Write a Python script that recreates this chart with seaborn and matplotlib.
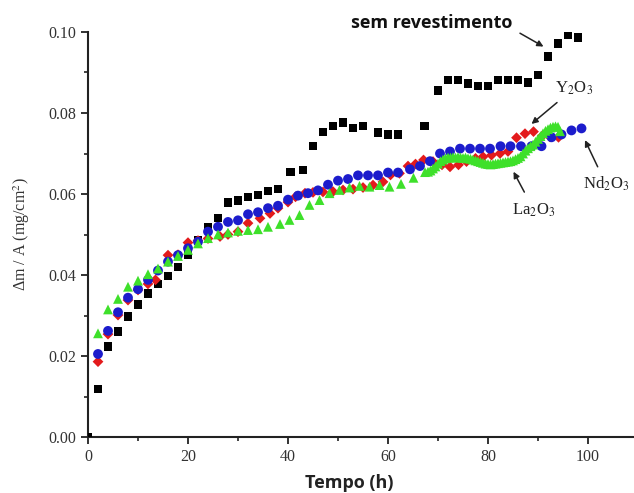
import numpy as np
import pandas as pd
import matplotlib
matplotlib.use("Agg")
import matplotlib.pyplot as plt
from matplotlib.ticker import MultipleLocator, FormatStrFormatter
import seaborn as sns

# ---- data ----
sem_x = [0, 2, 4, 6, 8, 10, 12, 14, 16, 18, 20, 22, 24, 26, 28, 30, 32, 34, 36, 38,
         40.5, 43, 45, 47, 49, 51, 53, 55, 58, 60, 62, 67.3, 70, 72, 74, 76, 78, 80,
         82, 84, 86, 88, 90, 92, 94, 96, 98]
sem_y = [0.0, 0.0119, 0.0223, 0.0261, 0.0298, 0.0327, 0.0355, 0.0378, 0.0398, 0.0420,
         0.0449, 0.0485, 0.0517, 0.0541, 0.0579, 0.0584, 0.0593, 0.0598, 0.0607, 0.0612,
         0.0654, 0.0659, 0.0719, 0.0753, 0.0768, 0.0776, 0.0763, 0.0768, 0.0752, 0.0747,
         0.0747, 0.0768, 0.0855, 0.0881, 0.0881, 0.0873, 0.0867, 0.0867, 0.0881, 0.0881,
         0.0881, 0.0875, 0.0894, 0.0939, 0.0972, 0.0994, 0.0986]

nd_x = [2, 4, 6, 8, 10, 12, 14, 16, 18, 20, 22, 24, 26, 28, 30, 32, 34, 36, 38, 40,
        42, 44, 46, 48, 50, 52, 54, 56, 58, 60, 62, 64.4, 66.4, 68.4, 70.4, 72.4, 74.4,
        76.4, 78.4, 80.4, 82.5, 84.5, 86.6, 88.7, 90.7, 92.7, 94.7, 96.7, 98.7]
nd_y = [0.0205, 0.0262, 0.0308, 0.0344, 0.0365, 0.0388, 0.0411, 0.0433, 0.0449, 0.0466,
        0.0482, 0.0507, 0.0519, 0.0531, 0.0535, 0.0550, 0.0555, 0.0565, 0.0571, 0.0586,
        0.0596, 0.0602, 0.0609, 0.0623, 0.0633, 0.0637, 0.0646, 0.0646, 0.0646, 0.0653,
        0.0653, 0.0661, 0.0669, 0.0681, 0.0700, 0.0705, 0.0712, 0.0712, 0.0712, 0.0712,
        0.0718, 0.0718, 0.0718, 0.0718, 0.0718, 0.0740, 0.0747, 0.0757, 0.0762]

y_x = [2, 4, 6, 8, 10, 12, 13.5, 16, 18, 20, 22, 24, 26.4, 28, 30, 32, 34.4, 36.4, 38,
       40, 41.5, 43.4, 45, 47, 49, 51, 53, 55, 57, 59, 60.5, 62.3, 64, 65.5, 67.1, 69,
       70.8, 72.4, 74.1, 75.7, 77.5, 79, 80.7, 82.4, 84, 85.7, 87.4, 89.1, 90.8, 92.4,
       94.1]
y_y = [0.0186, 0.0254, 0.0301, 0.0338, 0.0363, 0.0378, 0.0388, 0.0449, 0.0450, 0.0480,
       0.0485, 0.0490, 0.0495, 0.0500, 0.0507, 0.0528, 0.0540, 0.0552, 0.0565, 0.0580,
       0.0593, 0.0602, 0.0604, 0.0605, 0.0606, 0.0610, 0.0612, 0.0616, 0.0622, 0.0630,
       0.0647, 0.0651, 0.0669, 0.0674, 0.0684, 0.0680, 0.0672, 0.0667, 0.0672, 0.0680,
       0.0688, 0.0692, 0.0696, 0.0700, 0.0705, 0.0739, 0.0749, 0.0754, 0.0743, 0.0741,
       0.0740]

la_x = [2, 4, 6, 8, 10, 12, 14, 16, 18, 20, 22, 24, 26, 28, 30, 32, 34, 36, 38.4, 40.3,
        42.3, 44.3, 46.3, 48.3, 50.3, 52.3, 54.3, 56.3, 58.3, 60.3, 62.6, 65.1, 67.4,
        68.0, 68.5, 69.0, 69.5, 70.0, 70.5, 71.0, 71.5, 72.0, 72.5, 73.0, 73.5, 74.0,
        74.5, 75.0, 75.5, 76.0, 76.5, 77.0, 77.5, 78.0, 78.5, 79.0, 79.5, 80.0, 80.5,
        81.0, 81.5, 82.0, 82.5, 83.0, 83.5, 84.0, 84.5, 85.0, 85.5, 86.0, 86.5, 87.0,
        87.5, 88.0, 88.5, 89.0, 89.5, 90.0, 90.5, 91.0, 91.5, 92.0, 92.5, 93.0, 93.5,
        94.0, 94.4]
la_y = [0.0256, 0.0315, 0.0341, 0.0371, 0.0386, 0.0402, 0.0416, 0.0433, 0.0447, 0.0462,
        0.0478, 0.0491, 0.0500, 0.0505, 0.0509, 0.0511, 0.0513, 0.0519, 0.0526, 0.0536,
        0.0548, 0.0573, 0.0585, 0.0602, 0.0610, 0.0616, 0.0620, 0.0618, 0.0622, 0.0618,
        0.0625, 0.0640, 0.0654,
        0.0655, 0.0658, 0.0663, 0.0668, 0.0675, 0.0681, 0.0685, 0.0688, 0.0690, 0.0690,
        0.0691, 0.0690, 0.0691, 0.0690, 0.0689, 0.0690, 0.0688, 0.0687, 0.0685, 0.0683,
        0.0681, 0.0679, 0.0677, 0.0675, 0.0674, 0.0673, 0.0674, 0.0675, 0.0676, 0.0677,
        0.0678, 0.0679, 0.0680, 0.0681, 0.0683, 0.0686, 0.0689, 0.0693, 0.0700, 0.0707,
        0.0713, 0.0718, 0.0722, 0.0729, 0.0736, 0.0743, 0.0750, 0.0756, 0.0760, 0.0764,
        0.0766, 0.0767, 0.0766, 0.0755]

x_ticks = [0, 20, 40, 60, 80, 100]
y_ticks = [0.00, 0.02, 0.04, 0.06, 0.08, 0.10]

# ---- style ----
sns.set_style("ticks")
plt.rcParams['font.family'] = ['Liberation Serif', 'DejaVu Serif']
plt.rcParams['mathtext.fontset'] = 'stix'

fig = plt.figure(figsize=(6.34, 4.93), dpi=100)
ax = fig.add_axes([88 / 634, 56 / 493, 545 / 634, 405 / 493])

series = [
    (sem_x, sem_y, 's', '#000000', 38),
    (y_x, y_y, 'D', '#e31a1c', 30),
    (nd_x, nd_y, 'o', '#1c1ccc', 50),
    (la_x, la_y, '^', '#3ee02a', 50),
]
for xs, ys, m, c, s in series:
    df = pd.DataFrame({'x': xs, 'y': ys})
    sns.scatterplot(data=df, x='x', y='y', marker=m, color=c, s=s,
                    linewidth=0, edgecolor='none', ax=ax, zorder=3)

ax.set_xlim(0, 109)
ax.set_ylim(0, 0.10)
ax.set_xticks(x_ticks)
ax.set_yticks(y_ticks)
ax.xaxis.set_minor_locator(MultipleLocator(10))
ax.yaxis.set_minor_locator(MultipleLocator(0.01))
ax.yaxis.set_major_formatter(FormatStrFormatter('%.2f'))
ax.tick_params(axis='both', which='major', direction='out', length=5, width=1.3,
               labelsize=11.5, colors='#222222', labelcolor='#333333')
ax.tick_params(axis='both', which='minor', direction='out', length=3, width=1.2,
               colors='#222222')
for side in ['top', 'right']:
    ax.spines[side].set_visible(False)
for side in ['left', 'bottom']:
    ax.spines[side].set_linewidth(1.5)
    ax.spines[side].set_color('#222222')

ax.set_xlabel('Tempo (h)', family=['Open Sans', 'DejaVu Sans'], fontweight='bold',
              fontsize=13, color='#222222')
ax.xaxis.set_label_coords((349.5 - 88) / 545, -0.092)
ax.set_ylabel('Δm / A (mg/cm$^2$)', fontsize=11.5, color='#333333')
ax.yaxis.set_label_coords(-0.103, 0.5)

# annotations
ax.text(68.7, 0.1010, 'sem revestimento', ha='center', va='baseline', fontsize=13,
        fontweight='bold', family=['Open Sans', 'DejaVu Sans'], color='#111111',
        clip_on=False)
ax.annotate('', xy=(91.1, 0.0964), xytext=(86.4, 0.0997), annotation_clip=False,
            arrowprops=dict(arrowstyle='-|>', color='#222222', lw=1.1,
                            shrinkA=0, shrinkB=0, mutation_scale=9))
ax.annotate('Y$_2$O$_3$', xy=(88.7, 0.0773), xytext=(97.3, 0.0862),
            ha='center', va='center', fontsize=12, color='#222222', annotation_clip=False,
            arrowprops=dict(arrowstyle='-|>', color='#222222', lw=1.1,
                            shrinkA=3, shrinkB=0, mutation_scale=9))
ax.annotate('Nd$_2$O$_3$', xy=(99.4, 0.0733), xytext=(103.6, 0.0624),
            ha='center', va='center', fontsize=12, color='#222222', annotation_clip=False,
            arrowprops=dict(arrowstyle='-|>', color='#222222', lw=1.1,
                            shrinkA=4, shrinkB=0, mutation_scale=9))
ax.annotate('La$_2$O$_3$', xy=(85.1, 0.0655), xytext=(89.2, 0.0560),
            ha='center', va='center', fontsize=12, color='#222222', annotation_clip=False,
            arrowprops=dict(arrowstyle='-|>', color='#222222', lw=1.1,
                            shrinkA=5, shrinkB=0, mutation_scale=9))

fig.savefig('out.png', dpi=100)
